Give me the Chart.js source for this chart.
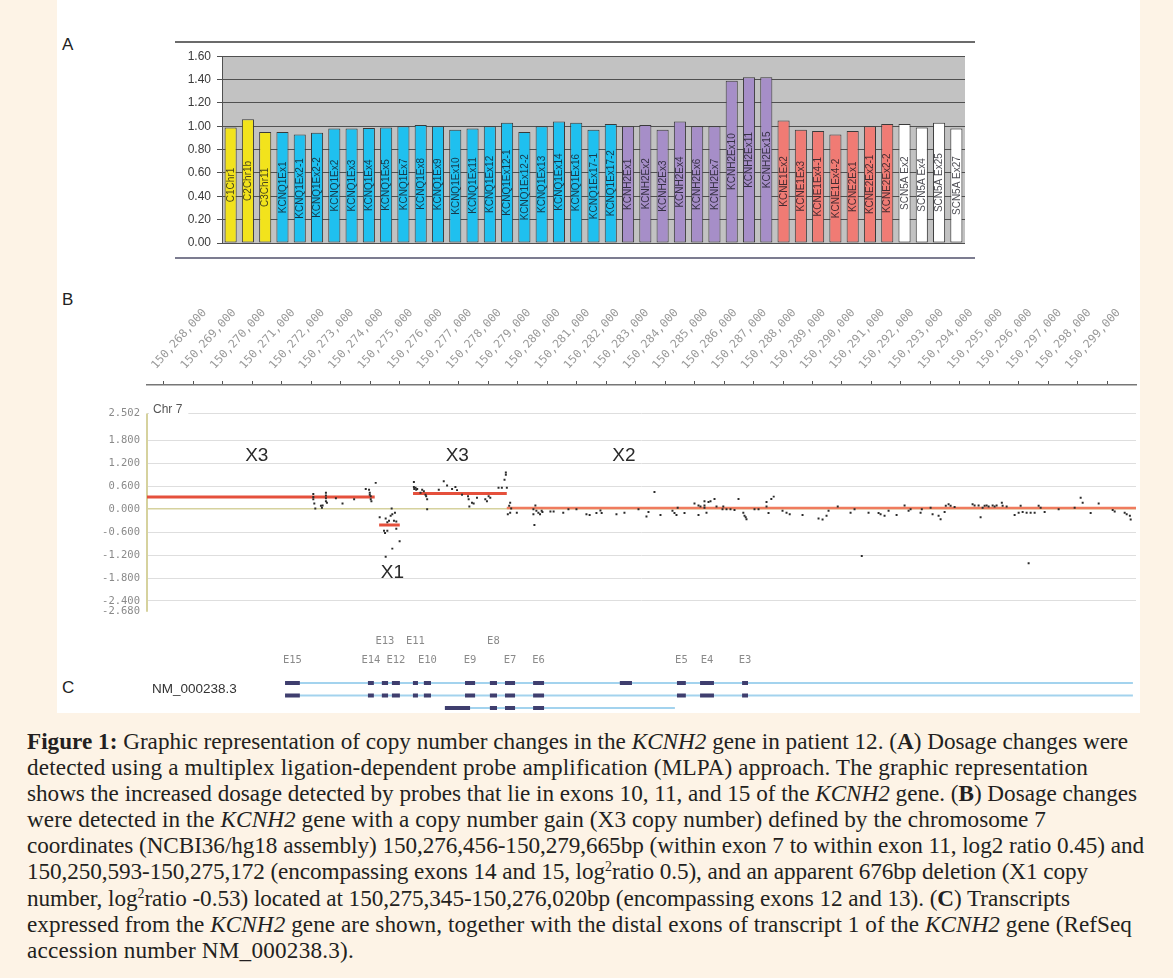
<!DOCTYPE html>
<html><head><meta charset="utf-8">
<script src="https://cdn.jsdelivr.net/npm/chart.js@4.4.1/dist/chart.umd.min.js"></script>
<style>
html,body{margin:0;padding:0;}
body{width:1173px;height:978px;background:#fdf3e6;position:relative;overflow:hidden;font-family:"Liberation Sans",Arial,sans-serif;}
#panel{position:absolute;left:57px;top:0;width:1083px;height:713px;background:#fff;}
.plabel{position:absolute;font-size:17px;color:#222;line-height:17px;}
#frameA{position:absolute;left:175px;top:41px;width:800px;height:218px;border-top:2px solid #6b6b6b;border-bottom:2px solid #7c7c90;box-sizing:border-box;}
canvas{position:absolute;display:block;}
#nm{position:absolute;left:152px;top:681px;font-size:13.5px;color:#333;line-height:16px;}
#caption{position:absolute;left:27px;top:728px;font-family:"Liberation Serif","Times New Roman",serif;color:#231f20;font-size:20px;}
.cl{white-space:nowrap;height:26.1px;line-height:26.1px;}
.cl span{white-space:nowrap;}
sup{font-size:0.6em;vertical-align:0.55em;line-height:0;}
</style></head>
<body>
<div id="panel"></div>
<div class="plabel" style="left:62px;top:36px;">A</div>
<div class="plabel" style="left:62px;top:291px;">B</div>
<div class="plabel" style="left:62px;top:679px;">C</div>
<div id="frameA"></div>
<canvas id="chartA" width="800" height="214" style="left:175px;top:43px;width:800px;height:214px;"></canvas>
<canvas id="chartB" width="1083" height="335" style="left:57px;top:290px;width:1083px;height:335px;"></canvas>
<canvas id="chartC" width="1083" height="83" style="left:57px;top:630px;width:1083px;height:83px;"></canvas>
<div id="nm">NM_000238.3</div>
<div id="caption">
<div class="cl"><span><b>Figure 1:</b> Graphic representation of copy number changes in the <i>KCNH2</i> gene in patient 12. (<b>A</b>) Dosage changes were</span></div>
<div class="cl"><span>detected using a multiplex ligation-dependent probe amplification (MLPA) approach. The graphic representation</span></div>
<div class="cl"><span>shows the increased dosage detected by probes that lie in exons 10, 11, and 15 of the <i>KCNH2</i> gene. (<b>B</b>) Dosage changes</span></div>
<div class="cl"><span>were detected in the <i>KCNH2</i> gene with a copy number gain (X3 copy number) defined by the chromosome 7</span></div>
<div class="cl"><span>coordinates (NCBI36/hg18 assembly) 150,276,456-150,279,665bp (within exon 7 to within exon 11, log2 ratio 0.45) and</span></div>
<div class="cl"><span>150,250,593-150,275,172 (encompassing exons 14 and 15, log<sup>2</sup>ratio 0.5), and an apparent 676bp deletion (X1 copy</span></div>
<div class="cl"><span>number, log<sup>2</sup>ratio -0.53) located at 150,275,345-150,276,020bp (encompassing exons 12 and 13). (<b>C</b>) Transcripts</span></div>
<div class="cl"><span>expressed from the <i>KCNH2</i> gene are shown, together with the distal exons of transcript 1 of the <i>KCNH2</i> gene (RefSeq</span></div>
<div class="cl"><span>accession number NM_000238.3).</span></div>
</div>
<script>
// ================= Panel A: MLPA probe dosage =================
const probeLabels = ['C1Chr1','C2Chr1b','C3Chr11',
 'KCNQ1Ex1','KCNQ1Ex2-1','KCNQ1Ex2-2','KCNQ1Ex2','KCNQ1Ex3','KCNQ1Ex4','KCNQ1Ex5','KCNQ1Ex7','KCNQ1Ex8','KCNQ1Ex9',
 'KCNQ1Ex10','KCNQ1Ex11','KCNQ1Ex12','KCNQ1Ex12-1','KCNQ1Ex12-2','KCNQ1Ex13','KCNQ1Ex14','KCNQ1Ex16','KCNQ1Ex17-1','KCNQ1Ex17-2',
 'KCNH2Ex1','KCNH2Ex2','KCNH2Ex3','KCNH2Ex4','KCNH2Ex6','KCNH2Ex7','KCNH2Ex10','KCNH2Ex11','KCNH2Ex15',
 'KCNE1Ex2','KCNE1Ex3','KCNE1Ex4-1','KCNE1Ex4-2','KCNE2Ex1','KCNE2Ex2-1','KCNE2Ex2-2',
 'SCN5A Ex2','SCN5A Ex4','SCN5A Ex25','SCN5A Ex27'];
const dosageRatios = [0.99,1.06,0.95,
 0.95,0.93,0.945,0.98,0.98,0.985,0.99,1.00,1.01,1.00,
 0.97,0.98,1.00,1.03,0.95,1.00,1.04,1.03,0.97,1.02,
 1.00,1.01,0.97,1.04,1.00,1.00,1.39,1.42,1.42,
 1.05,0.97,0.96,0.93,0.96,1.00,1.02,
 1.02,0.99,1.03,0.98];
const dosageTicks = [0,0.2,0.4,0.6,0.8,1.0,1.2,1.4,1.6];

// ================= Panel B: array CGH probes, chr7 =================
const probePositions = [
 150273067,150273067,150273067,150273101,150273135,150273326,150273360,150273383,150273495,150273495,
 150273495,150273495,150273529,150273833,150274058,150274452,150274846,150274958,150274982,150274982,
 150275015,150275015,150275038,150275184,150275319,150275466,150275500,150275522,150275522,150275578,
 150275578,150275635,150275691,150275725,150275747,150275747,150275803,150275837,150275882,150275882,
 150275995,150276479,150276479,150276490,150276535,150276557,150276591,150276704,150276760,150276817,
 150276873,150276895,150276929,150276929,150277323,150277492,150277605,150277774,150277887,150277943,
 150278112,150278315,150278337,150278360,150278450,150278506,150278619,150278901,150278957,150279014,
 150279070,150279350,150279463,150279553,150279598,150279598,150279632,150279665,150279711,150279745,
 150279745,150279779,150279970,150280533,150280533,150280567,150280600,150280634,150280701,150280758,
 150280813,150280839,150281110,150281219,150281545,150281721,150281993,150282332,150282440,150282671,
 150282807,150282848,150283350,150283621,150284097,150284368,150284436,150284639,150284843,150285250,
 150285318,150285386,150285427,150285658,150285997,150286133,150286133,150286200,150286336,150286336,
 150286336,150286404,150286472,150286540,150286676,150286744,150286947,150286974,150287083,150287218,
 150287354,150287490,150287653,150287694,150287734,150287761,150288033,150288169,150288440,150288440,
 150288508,150288603,150288684,150288983,150289119,150289227,150289662,150290205,150290341,150290476,
 150290544,150290856,150291291,150291426,150291671,150291901,150292241,150292309,150292444,150292580,
 150292852,150293123,150293259,150293327,150293666,150293707,150294006,150294073,150294277,150294345,
 150294481,150294521,150294616,150294684,150294820,150295430,150295498,150295634,150295702,150295770,
 150295838,150295906,150295974,150296110,150296177,150296245,150296422,150296449,150296585,150296856,
 150296992,150297060,150297128,150297263,150297331,150297399,150297535,150297671,150297738,150297874,
 150298349,150298892,150299096,150299164,150299435,150299707,150300182,150300250,150300589,150300657,
 150300765,150300793];
const probeLog2 = [
 0.40,0.32,0.26,0.15,0.02,0.09,0.04,0.10,0.43,0.36,
 0.29,0.21,0.17,0.29,0.15,0.26,0.53,0.51,0.43,0.38,
 0.34,0.26,0.21,0.69,-0.21,-0.56,-0.62,-0.24,-1.24,-0.34,
 -0.56,-0.30,-0.17,0.02,-0.13,-1.03,-0.30,-0.09,-0.32,-0.51,
 -0.84,0.71,0.58,0.53,0.56,0.51,0.53,0.43,0.51,0.47,
 0.38,0.34,0.26,0.00,0.51,0.73,0.62,0.53,0.58,0.50,
 0.38,0.34,0.26,0.07,0.17,0.15,0.30,0.26,0.21,0.34,
 0.30,0.56,0.56,0.77,0.96,0.90,0.56,-0.13,0.09,0.17,
 -0.09,0.02,-0.09,0.00,-0.13,-0.41,0.10,-0.04,-0.09,-0.13,
 -0.04,-0.07,-0.06,-0.06,-0.09,0.00,0.00,-0.13,-0.15,-0.10,
 -0.03,-0.10,-0.13,-0.09,0.00,-0.19,-0.07,0.45,-0.15,-0.04,
 -0.10,-0.15,0.04,-0.10,0.15,0.10,-0.15,0.07,0.21,0.10,
 0.04,-0.09,0.19,0.21,0.27,0.07,0.00,0.07,0.00,0.00,
 -0.02,0.27,-0.09,-0.17,-0.21,-0.26,0.00,0.00,0.19,0.07,
 -0.10,0.27,0.33,-0.04,-0.09,-0.13,-0.15,-0.24,-0.27,-0.17,
 -0.04,0.07,-0.09,0.00,-1.22,-0.09,-0.10,-0.13,-0.17,-0.04,
 -0.15,0.10,-0.04,0.00,-0.09,0.00,0.04,-0.13,-0.17,-0.26,
 -0.07,0.09,0.13,0.09,0.06,0.13,0.10,0.10,-0.21,0.04,
 0.09,0.10,0.07,0.10,0.07,0.10,0.17,0.09,0.07,-0.15,
 -0.09,0.09,-0.07,-0.09,-1.41,-0.09,-0.09,0.09,0.04,-0.07,
 0.00,0.04,0.30,0.17,-0.10,0.15,-0.02,-0.06,-0.09,-0.13,
 -0.17,-0.27];
const segmentStarts = [150267426,150275300,150276450,150279630];
const segmentEnds   = [150275150,150276000,150279630,150300973];
const segmentMeans  = [0.32,-0.41,0.41,0.03];
const copyLabels    = ['X3','X1','X3','X2'];
const copyLabelPos  = [150271150,150275750,150277950,150283600];
const copyLabelY    = [1.39,-1.65,1.39,1.39];
const genomeTicks = [];
for (let p = 150268000; p <= 150300000; p += 1000) genomeTicks.push(p);
const log2Ticks = [2.502,1.8,1.2,0.6,0,-0.6,-1.2,-1.8,-2.4,-2.68];
const xMin = 150267426, xMax = 150300973;

// ================= Panel C: KCNH2 transcripts =================
const exonNames  = ['E15','E14','E13','E12','E11','E10','E9','E8','E7','E6','','E5','E4','E3'];
const exonStarts = [150272090,150274890,150275360,150275700,150276410,150276780,150278170,150279010,150279520,150280470,150283400,150285330,150286110,150287530];
const exonEnds   = [150272590,150275090,150275570,150275970,150276580,150277020,150278510,150279250,150279860,150280840,150283810,150285630,150286580,150287730];
const exonLabelLevel = [1,1,2,1,2,1,1,2,1,1,0,1,1,1];
const transcriptStarts = [150272090,150272090,150277490];
const transcriptEnds   = [150300733,150300733,150285260];
const transcriptExons  = [
  [0,1,2,3,4,5,6,7,8,9,10,11,12,13],
  [0,1,2,3,4,5,6,7,8,9,11,12,13],
  [7,8,9]];
const transcript3FirstExon = [150277490,150278340];

// ---------- helpers ----------
function groupColor(lbl){
  if (/^C\dChr/.test(lbl)) return '#f2e31c';
  if (lbl.startsWith('KCNQ1')) return '#1fc0ef';
  if (lbl.startsWith('KCNH2')) return '#a68ec8';
  if (lbl.startsWith('KCNE')) return '#f07b74';
  return '#ffffff';
}

// ================= Chart A =================
const plotBg = {id:'plotBg', beforeDraw(c){const a=c.chartArea,ctx=c.ctx;ctx.save();ctx.fillStyle='#c2c2c2';ctx.fillRect(a.left,a.top,a.right-a.left,a.bottom-a.top);ctx.restore();}};
const barText = {id:'barText', afterDatasetsDraw(c){
  const ctx=c.ctx, meta=c.getDatasetMeta(0);
  ctx.save(); ctx.font='10px "Liberation Sans", Arial, sans-serif'; ctx.textAlign='center'; ctx.textBaseline='middle';
  ctx.fillStyle='rgba(20,20,30,0.78)';
  meta.data.forEach((b,i)=>{ctx.save();ctx.translate(b.x,(b.y+b.base)/2);ctx.rotate(-Math.PI/2);ctx.fillText(probeLabels[i],0,0.5);ctx.restore();});
  ctx.restore();}};
new Chart(document.getElementById('chartA'),{
  type:'bar',
  data:{labels:probeLabels,datasets:[{data:dosageRatios,backgroundColor:probeLabels.map(groupColor),borderColor:'#3a3a3a',borderWidth:1,borderSkipped:false,categoryPercentage:1,barPercentage:0.7}]},
  options:{responsive:false,animation:false,devicePixelRatio:1,
    layout:{padding:{top:12,right:10,bottom:14,left:0}},
    plugins:{legend:{display:false},tooltip:{enabled:false}},
    scales:{
      x:{display:false},
      y:{min:0,max:1.6,afterBuildTicks(s){s.ticks=dosageTicks.map(v=>({value:v}));},afterFit(s){s.width=47;},
         ticks:{callback:v=>v.toFixed(2),font:{family:'"Liberation Sans", Arial',size:12},color:'#3a3a3a',padding:6},
         grid:{color:'#505050',lineWidth:1,tickLength:5},border:{color:'#505050',width:1}}
    }},
  plugins:[plotBg,barText]});

// ================= Chart B =================
const bDecor = {id:'bDecor',
  beforeDatasetsDraw(c){
    const ctx=c.ctx,y=c.scales.y,a=c.chartArea;
    ctx.save(); ctx.strokeStyle='#d6d29e'; ctx.lineWidth=2; ctx.beginPath();
    ctx.moveTo(a.left,y.getPixelForValue(log2Ticks[0])); ctx.lineTo(a.left,y.getPixelForValue(log2Ticks[log2Ticks.length-1])); ctx.stroke();
    ctx.font='12px "Liberation Sans", Arial'; const ty=y.getPixelForValue(log2Ticks[0]);
    const w=ctx.measureText('Chr 7').width; ctx.fillStyle='#fff'; ctx.fillRect(a.left+2,ty-12,w+10,14);
    ctx.fillStyle='#555'; ctx.textBaseline='middle'; ctx.fillText('Chr 7',a.left+6,ty-4);
    ctx.restore();},
  afterDatasetsDraw(c){
    const ctx=c.ctx,x=c.scales.x,y=c.scales.y;
    ctx.save(); ctx.font='19px "Liberation Sans", Arial'; ctx.fillStyle='#2a2a2a'; ctx.textAlign='center'; ctx.textBaseline='middle';
    copyLabels.forEach((t,i)=>ctx.fillText(t,x.getPixelForValue(copyLabelPos[i]),y.getPixelForValue(copyLabelY[i])));
    ctx.restore();}};
const segColors=['#e5503c','#e5503c','#e5503c','#ef7b5e'];
const segDatasets = segmentStarts.map((s,i)=>({type:'line',data:[{x:s,y:segmentMeans[i]},{x:segmentEnds[i],y:segmentMeans[i]}],
  borderColor:segColors[i],borderWidth:i===3?2.5:3,pointRadius:0,order:2}));
new Chart(document.getElementById('chartB'),{
  type:'scatter',
  data:{datasets:[...segDatasets,
    {type:'scatter',data:probePositions.map((p,i)=>({x:p,y:probeLog2[i]})),pointStyle:'rect',pointRadius:1.4,backgroundColor:'#2b2b2b',borderWidth:0,order:1}]},
  options:{responsive:false,animation:false,devicePixelRatio:1,
    layout:{padding:{top:0,right:0,bottom:11,left:0}},
    plugins:{legend:{display:false},tooltip:{enabled:false}},
    scales:{
      x:{type:'linear',position:'top',min:xMin,max:xMax,
         afterBuildTicks(s){s.ticks=genomeTicks.map(v=>({value:v}));},afterFit(s){s.height=95;},
         ticks:{autoSkip:false,minRotation:48,maxRotation:48,padding:9,color:'#9a9a9a',font:{family:'"DejaVu Sans Mono", monospace',size:11.5},
           callback:v=>v>=150300000?'':v.toLocaleString('en-US')},
         grid:{drawOnChartArea:false,drawTicks:true,tickLength:4,color:'#555'},border:{display:true,color:'#777',width:1.5}},
      y:{min:-2.68,max:3.25,afterBuildTicks(s){s.ticks=log2Ticks.map(v=>({value:v}));},afterFit(s){s.width=90;},
         ticks:{callback:v=>v.toFixed(3),color:'#8a8a8a',padding:7,font:{family:'"DejaVu Sans Mono", monospace',size:10.5}},
         grid:{drawTicks:false,lineWidth:c=>c.tick&&c.tick.value===0?1.5:1,
               color:c=>c.tick&&c.tick.value===0?'#d6d29e':(c.tick&&c.tick.value===-2.68?'rgba(0,0,0,0)':'#dedede')},
         border:{display:false}}
    }},
  plugins:[bDecor]});

// ================= Chart C =================
const cLabels = {id:'cLabels',afterDatasetsDraw(c){
  const ctx=c.ctx,x=c.scales.x,y=c.scales.y; const y0=y.getPixelForValue(0);
  ctx.save(); ctx.font='10.5px "DejaVu Sans Mono", monospace'; ctx.fillStyle='#8a8a8a'; ctx.textAlign='center'; ctx.textBaseline='middle';
  exonNames.forEach((n,i)=>{ if(!exonLabelLevel[i]) return;
    ctx.fillText(n,x.getPixelForValue((exonStarts[i]+exonEnds[i])/2), y0-(exonLabelLevel[i]===1?23:42)); });
  ctx.restore();}};
const cDatasets=[];
transcriptStarts.forEach((s,r)=>{
  cDatasets.push({data:[{x:s,y:r},{x:transcriptEnds[r],y:r}],showLine:true,borderColor:'#a3d3ee',borderWidth:2,pointRadius:0,order:2});
  const pts=[];
  if(r===2){pts.push({x:transcript3FirstExon[0],y:r},{x:transcript3FirstExon[1],y:r},{x:null,y:null});}
  transcriptExons[r].forEach(k=>{pts.push({x:exonStarts[k],y:r},{x:exonEnds[k],y:r},{x:null,y:null});});
  cDatasets.push({data:pts,showLine:true,spanGaps:false,borderColor:'#3f3e6e',borderWidth:4,borderCapStyle:'butt',pointRadius:0,order:1});
});
new Chart(document.getElementById('chartC'),{
  type:'scatter',data:{datasets:cDatasets},
  options:{responsive:false,animation:false,devicePixelRatio:1,
    layout:{padding:{left:90,right:0,top:0,bottom:0}},
    plugins:{legend:{display:false},tooltip:{enabled:false}},
    scales:{x:{type:'linear',min:xMin,max:xMax,display:false},y:{type:'linear',min:-4.24,max:2.4,reverse:true,display:false}}},
  plugins:[cLabels]});

// ================= caption sizing =================
(function(){
  const cap=document.getElementById('caption');
  const spans=[...cap.querySelectorAll('.cl span')];
  const w=spans[0].getBoundingClientRect().width;
  cap.style.fontSize=(20*1101/w).toFixed(2)+'px';
  const targets=[1101,1061,1110,1019,1117,1061,1043,1105,327];
  spans.forEach((s,i)=>{
    const nat=s.getBoundingClientRect().width, n=s.textContent.length;
    const ls=(targets[i]-nat)/n;
    s.style.letterSpacing=Math.max(-0.6,Math.min(0.6,ls)).toFixed(3)+'px';
  });
})();
</script>
</body></html>
